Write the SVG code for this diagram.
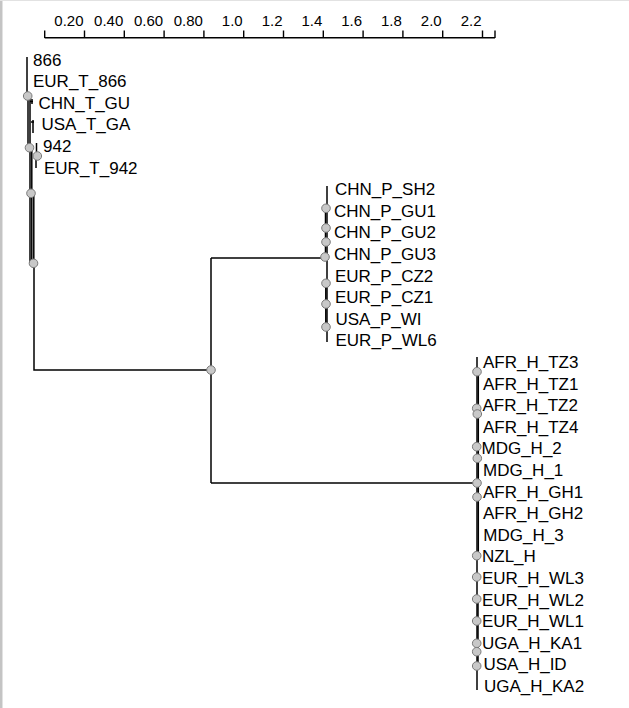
<svg xmlns="http://www.w3.org/2000/svg" width="629" height="708" viewBox="0 0 629 708">
<style>
  .ax { font-family: "Liberation Sans", Arial, sans-serif; font-size: 15px; fill: #000; text-anchor: end; }
  .lb { font-family: "Liberation Sans", Arial, sans-serif; font-size: 17px; fill: #000; }
  .ln { stroke: #000; stroke-width: 1.5; fill: none; }
  .tk { stroke: #000; stroke-width: 1.4; }
  .nd { fill: #c8c8c8; stroke: #7a7a7a; stroke-width: 1; }
</style>
<rect x="0" y="0" width="629" height="708" fill="#fff"/>
<rect x="0" y="0" width="2" height="708" fill="#c4c4c4"/>
<rect x="2" y="0" width="1" height="708" fill="#e2e2e2"/>
<rect x="0" y="0" width="629" height="1" fill="#e2e2e2"/>

<g id="axis">
  <line class="tk" x1="44.7" y1="37.7" x2="495" y2="37.7"/>
  <path class="tk" d="M44.7,30.5V38 M84.5,30.5V38 M124.3,30.5V38 M164.1,30.5V38 M203.9,30.5V38 M243.7,30.5V38 M283.5,30.5V38 M323.3,30.5V38 M363.1,30.5V38 M402.9,30.5V38 M442.7,30.5V38 M482.5,30.5V38 M495,30.5V38"/>
  <text class="ax" x="83.5" y="26">0.20</text>
  <text class="ax" x="123.3" y="26">0.40</text>
  <text class="ax" x="163.1" y="26">0.60</text>
  <text class="ax" x="202.9" y="26">0.80</text>
  <text class="ax" x="242.7" y="26">1.0</text>
  <text class="ax" x="282.5" y="26">1.2</text>
  <text class="ax" x="322.3" y="26">1.4</text>
  <text class="ax" x="362.1" y="26">1.6</text>
  <text class="ax" x="401.9" y="26">1.8</text>
  <text class="ax" x="441.7" y="26">2.0</text>
  <text class="ax" x="481.5" y="26">2.2</text>
</g>

<g id="connectors">
  <!-- backbone -->
  <path class="ln" d="M34,263V370H211"/>
  <path class="ln" d="M211,258V483"/>
  <path class="ln" d="M211,258H325"/>
  <path class="ln" d="M211,483H477"/>
  <!-- T cluster -->
  <path class="ln" d="M27,57V96"/>
  <path class="ln" d="M28,96V148 M30,96V263 M31.8,148V263 M33.8,193V263"/>
  <path class="ln" d="M30,101.5H33 M32,99V104"/>
  <path class="ln" d="M31,122H34 M33,120V133"/>
  <path class="ln" d="M36.5,143V152"/>
  <path class="ln" d="M36,158V168"/>
  <!-- P cluster -->
  <path class="ln" d="M327,186V342"/>
  <path class="ln" d="M325.5,206V258 M325.8,283V328"/>
  <!-- H cluster -->
  <path class="ln" d="M477,357V690"/>
  <path class="ln" d="M478.3,372V560 M478,600V668"/>
</g>

<g id="nodes">
  <circle class="nd" cx="27.7" cy="96" r="4.3"/>
  <circle class="nd" cx="29.5" cy="147.7" r="4.3"/>
  <circle class="nd" cx="37.3" cy="156" r="4.3"/>
  <circle class="nd" cx="31" cy="193.3" r="4.3"/>
  <circle class="nd" cx="33.5" cy="263.3" r="4.3"/>
  <circle class="nd" cx="211" cy="370" r="4.3"/>
  <circle class="nd" cx="326" cy="208.3" r="4.3"/>
  <circle class="nd" cx="326" cy="228" r="4.3"/>
  <circle class="nd" cx="326" cy="242" r="4.3"/>
  <circle class="nd" cx="325" cy="257" r="4.3"/>
  <circle class="nd" cx="326" cy="283.3" r="4.3"/>
  <circle class="nd" cx="326" cy="304" r="4.3"/>
  <circle class="nd" cx="326" cy="327" r="4.3"/>
  <circle class="nd" cx="477" cy="371.7" r="4.3"/>
  <circle class="nd" cx="476.7" cy="408.3" r="4.3"/>
  <circle class="nd" cx="477.3" cy="414" r="4.3"/>
  <circle class="nd" cx="476.7" cy="446.7" r="4.3"/>
  <circle class="nd" cx="477.3" cy="458.3" r="4.3"/>
  <circle class="nd" cx="477" cy="483" r="4.3"/>
  <circle class="nd" cx="477" cy="497" r="4.3"/>
  <circle class="nd" cx="476.7" cy="555.7" r="4.3"/>
  <circle class="nd" cx="476.7" cy="577" r="4.3"/>
  <circle class="nd" cx="476.7" cy="599" r="4.3"/>
  <circle class="nd" cx="476.7" cy="621" r="4.3"/>
  <circle class="nd" cx="476.7" cy="643.3" r="4.3"/>
  <circle class="nd" cx="476.7" cy="651.7" r="4.3"/>
  <circle class="nd" cx="476.7" cy="666" r="4.3"/>
</g>

<g id="labels">
  <text class="lb" x="33" y="65.5">866</text>
  <text class="lb" x="33" y="87.1">EUR_T_866</text>
  <text class="lb" x="38.5" y="108.7">CHN_T_GU</text>
  <text class="lb" x="41.5" y="130.3">USA_T_GA</text>
  <text class="lb" x="43" y="151.9">942</text>
  <text class="lb" x="44" y="173.5">EUR_T_942</text>
  <text class="lb" x="335" y="195.1">CHN_P_SH2</text>
  <text class="lb" x="334" y="216.7">CHN_P_GU1</text>
  <text class="lb" x="334" y="238.3">CHN_P_GU2</text>
  <text class="lb" x="334" y="259.9">CHN_P_GU3</text>
  <text class="lb" x="335" y="281.5">EUR_P_CZ2</text>
  <text class="lb" x="335" y="303.1">EUR_P_CZ1</text>
  <text class="lb" x="335.5" y="324.7">USA_P_WI</text>
  <text class="lb" x="335.5" y="346.3">EUR_P_WL6</text>
  <text class="lb" x="483" y="367.9">AFR_H_TZ3</text>
  <text class="lb" x="483" y="389.5">AFR_H_TZ1</text>
  <text class="lb" x="482.5" y="411.1">AFR_H_TZ2</text>
  <text class="lb" x="483" y="432.7">AFR_H_TZ4</text>
  <text class="lb" x="481.5" y="454.3">MDG_H_2</text>
  <text class="lb" x="483" y="475.9">MDG_H_1</text>
  <text class="lb" x="483" y="497.5">AFR_H_GH1</text>
  <text class="lb" x="483" y="519.1">AFR_H_GH2</text>
  <text class="lb" x="483.3" y="540.7">MDG_H_3</text>
  <text class="lb" x="482" y="562.3">NZL_H</text>
  <text class="lb" x="482" y="583.9">EUR_H_WL3</text>
  <text class="lb" x="482" y="605.5">EUR_H_WL2</text>
  <text class="lb" x="482" y="627.1">EUR_H_WL1</text>
  <text class="lb" x="482" y="648.7">UGA_H_KA1</text>
  <text class="lb" x="483.5" y="670.3">USA_H_ID</text>
  <text class="lb" x="484" y="691.9">UGA_H_KA2</text>
</g>
</svg>
